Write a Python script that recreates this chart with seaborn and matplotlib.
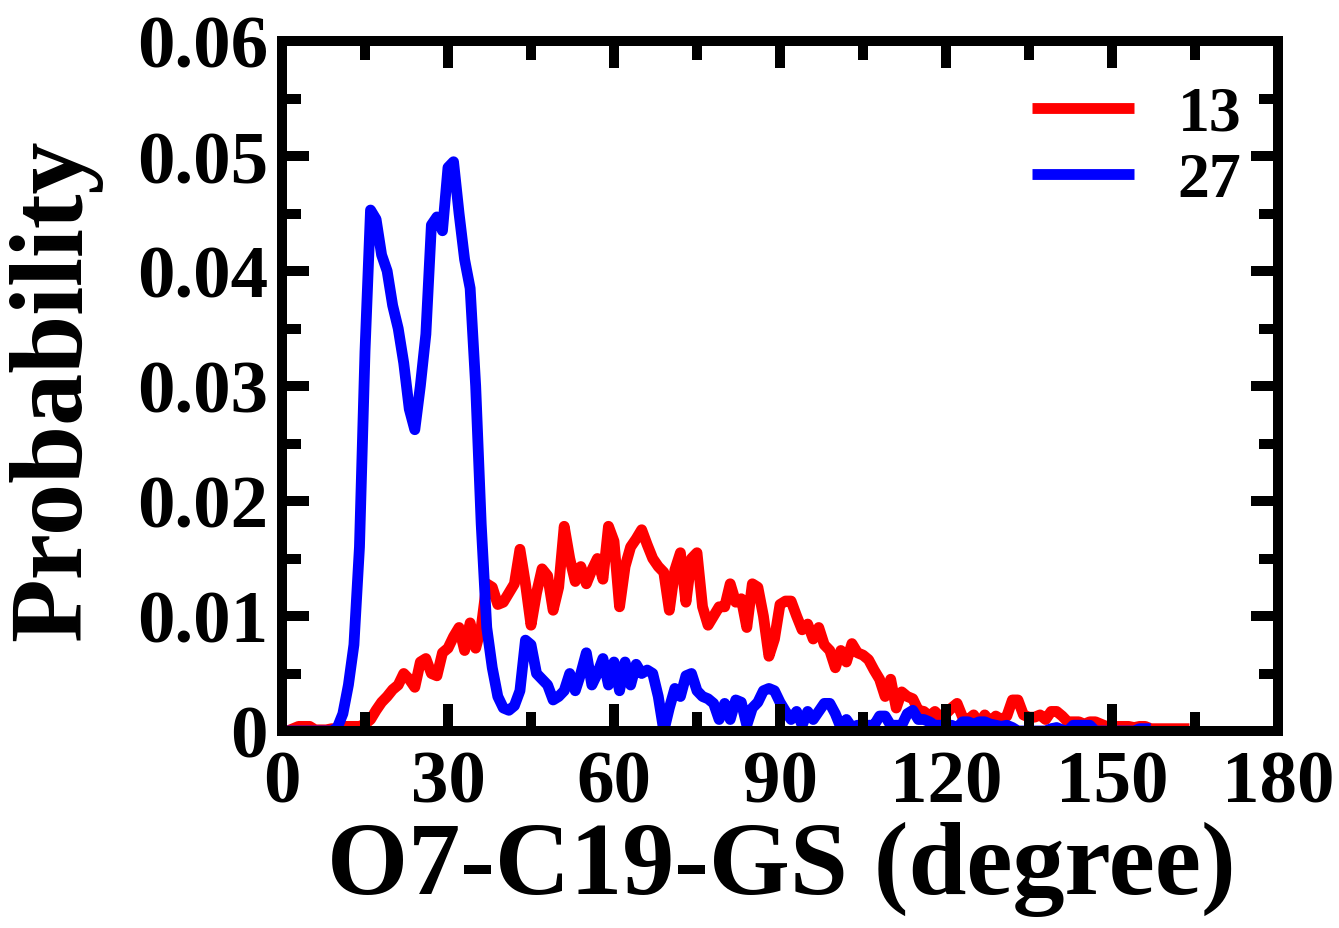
import numpy as np
import pandas as pd
import matplotlib
matplotlib.use("Agg")
import matplotlib.pyplot as plt
from matplotlib.ticker import MultipleLocator, FixedLocator
import seaborn as sns

# Angle bins (degree) and probability distributions for the two systems
angle_13 = list(range(0, 165))
prob_13 = [
    0.0000, 0.0000, 0.0002, 0.0004, 0.0004, 0.0004, 0.0001, 0.0001, 0.0001, 0.0002,
    0.0002, 0.0004, 0.0004, 0.0004, 0.0004, 0.0006, 0.0010, 0.0018, 0.0025, 0.0030,
    0.0036, 0.0040, 0.0050, 0.0045, 0.0038, 0.0060, 0.0063, 0.0050, 0.0048, 0.0068,
    0.0072, 0.0082, 0.0090, 0.0070, 0.0094, 0.0072, 0.0090, 0.0128, 0.0125, 0.0110,
    0.0112, 0.0120, 0.0128, 0.0158, 0.0128, 0.0092, 0.0120, 0.0141, 0.0135, 0.0105,
    0.0125, 0.0178, 0.0150, 0.0130, 0.0143, 0.0128, 0.0140, 0.0150, 0.0132, 0.0178,
    0.0165, 0.0108, 0.0143, 0.0160, 0.0167, 0.0175, 0.0162, 0.0150, 0.0143, 0.0138,
    0.0105, 0.0140, 0.0155, 0.0112, 0.0150, 0.0155, 0.0108, 0.0092, 0.0100, 0.0108,
    0.0108, 0.0128, 0.0112, 0.0115, 0.0090, 0.0128, 0.0125, 0.0100, 0.0065, 0.0080,
    0.0110, 0.0113, 0.0113, 0.0100, 0.0088, 0.0093, 0.0080, 0.0090, 0.0075, 0.0070,
    0.0055, 0.0070, 0.0060, 0.0076, 0.0068, 0.0066, 0.0062, 0.0053, 0.0045, 0.0030,
    0.0045, 0.0020, 0.0034, 0.0030, 0.0028, 0.0018, 0.0017, 0.0013, 0.0017, 0.0012,
    0.0015, 0.0020, 0.0024, 0.0012, 0.0010, 0.0014, 0.0006, 0.0014, 0.0008, 0.0013,
    0.0010, 0.0013, 0.0027, 0.0027, 0.0014, 0.0012, 0.0012, 0.0014, 0.0010, 0.0017,
    0.0017, 0.0013, 0.0008, 0.0008, 0.0008, 0.0006, 0.0008, 0.0008, 0.0006, 0.0004,
    0.0002, 0.0004, 0.0004, 0.0004, 0.0003, 0.0004, 0.0004, 0.0002, 0.0002, 0.0002,
    0.0002, 0.0002, 0.0002, 0.0002, 0.0002,
]

angle_27 = list(range(0, 158))
prob_27 = [
    0.0000, 0.0000, 0.0000, 0.0000, 0.0000, 0.0000, 0.0000, 0.0000, 0.0000, 0.0000,
    0.0003, 0.0015, 0.0040, 0.0075, 0.0160, 0.0330, 0.0453, 0.0445, 0.0414, 0.0400,
    0.0370, 0.0350, 0.0320, 0.0280, 0.0262, 0.0300, 0.0345, 0.0440, 0.0447, 0.0435,
    0.0490, 0.0495, 0.0450, 0.0410, 0.0385, 0.0300, 0.0180, 0.0090, 0.0055, 0.0030,
    0.0020, 0.0018, 0.0022, 0.0035, 0.0079, 0.0075, 0.0050, 0.0045, 0.0040, 0.0027,
    0.0030, 0.0035, 0.0050, 0.0035, 0.0050, 0.0068, 0.0040, 0.0050, 0.0063, 0.0040,
    0.0060, 0.0035, 0.0060, 0.0040, 0.0058, 0.0050, 0.0053, 0.0050, 0.0030, 0.0000,
    0.0020, 0.0037, 0.0030, 0.0048, 0.0050, 0.0035, 0.0030, 0.0028, 0.0024, 0.0010,
    0.0024, 0.0010, 0.0027, 0.0025, 0.0005, 0.0020, 0.0025, 0.0035, 0.0037, 0.0035,
    0.0025, 0.0017, 0.0010, 0.0017, 0.0005, 0.0017, 0.0010, 0.0017, 0.0024, 0.0024,
    0.0015, 0.0003, 0.0010, 0.0003, 0.0005, 0.0003, 0.0005, 0.0005, 0.0013, 0.0013,
    0.0005, 0.0005, 0.0005, 0.0015, 0.0018, 0.0010, 0.0010, 0.0008, 0.0005, 0.0005,
    0.0005, 0.0005, 0.0003, 0.0008, 0.0008, 0.0006, 0.0008, 0.0008, 0.0006, 0.0005,
    0.0004, 0.0005, 0.0003, 0.0000, 0.0000, 0.0000, 0.0000, 0.0000, 0.0000, 0.0002,
    0.0003, 0.0001, 0.0000, 0.0005, 0.0005, 0.0005, 0.0005, 0.0000, 0.0000, 0.0000,
    0.0000, 0.0000, 0.0000, 0.0000, 0.0000, 0.0002, 0.0002, 0.0002,
]

series_names = ["13", "27"]
series_colors = ["#ff0000", "#0000ff"]

x_ticks = [0, 30, 60, 90, 120, 150, 180]
y_ticks = [0, 0.01, 0.02, 0.03, 0.04, 0.05, 0.06]
y_tick_labels = ["0", "0.01", "0.02", "0.03", "0.04", "0.05", "0.06"]
x_label = "O7-C19-GS (degree)"
y_label = "Probability"

df = pd.concat([
    pd.DataFrame({"angle": angle_13, "prob": prob_13, "system": "13"}),
    pd.DataFrame({"angle": angle_27, "prob": prob_27, "system": "27"}),
], ignore_index=True)

sns.set_theme(style="ticks")
plt.rcParams["font.family"] = ["Liberation Serif", "DejaVu Serif"]
plt.rcParams["font.weight"] = "bold"
for key in ("text.color", "axes.labelcolor", "xtick.color", "ytick.color",
            "axes.edgecolor"):
    plt.rcParams[key] = "black"

W, H = 1339, 929
fig = plt.figure(figsize=(W / 100, H / 100), dpi=100)
left_px, right_px, top_px, bottom_px = 282, 1278, 42, 732
ax = fig.add_axes([left_px / W, (H - bottom_px) / H,
                   (right_px - left_px) / W, (bottom_px - top_px) / H])

line_w = 7.8
sns.lineplot(data=df, x="angle", y="prob", hue="system",
             hue_order=series_names, palette=dict(zip(series_names, series_colors)),
             linewidth=line_w, ax=ax, legend=False, estimator=None, sort=True)
for ln in ax.lines:
    ln.set_solid_joinstyle("round")
    ln.set_solid_capstyle("butt")

ax.set_xlim(0, 180)
ax.set_ylim(0, 0.06)
ax.xaxis.set_major_locator(FixedLocator(x_ticks))
ax.xaxis.set_minor_locator(MultipleLocator(15))
ax.yaxis.set_major_locator(FixedLocator(y_ticks))
ax.yaxis.set_minor_locator(MultipleLocator(0.005))
ax.set_xticklabels([str(v) for v in x_ticks])
ax.set_yticklabels(y_tick_labels)

ax.set_axisbelow(False)
for sp in ax.spines.values():
    sp.set_linewidth(7.2)
    sp.set_color("black")
    sp.set_zorder(5)

ax.tick_params(which="both", direction="in", top=True, right=True,
               color="black", width=7.2, labelcolor="black")
ax.tick_params(which="major", length=19.5)
ax.tick_params(which="minor", length=13.5)
ax.tick_params(axis="y", which="major", labelsize=54, pad=10)
ax.tick_params(axis="x", which="major", labelsize=54, pad=13)
for lbl in ax.get_xticklabels() + ax.get_yticklabels():
    lbl.set_fontweight("bold")

ax.set_xlabel(x_label, fontsize=75, fontweight="bold", color="black")
ax.set_ylabel(y_label, fontsize=75, fontweight="bold", color="black")
ax.xaxis.set_label_coords(0.501, -0.13)
ax.yaxis.set_label_coords(-0.181, 0.496)

handles = [plt.Line2D([], [], color=c, linewidth=line_w, solid_capstyle="butt")
           for c in series_colors]
leg = ax.legend(handles, series_names, loc="upper right",
                bbox_to_anchor=(0.963, 0.936),
                frameon=False, handlelength=1.6, handletextpad=0.68,
                labelspacing=0.12, borderpad=0.0, borderaxespad=0.0,
                prop={"family": ["Liberation Serif"], "weight": "bold", "size": 46})
for t in leg.get_texts():
    t.set_color("black")

fig.savefig("out.png", dpi=100, facecolor="white")
